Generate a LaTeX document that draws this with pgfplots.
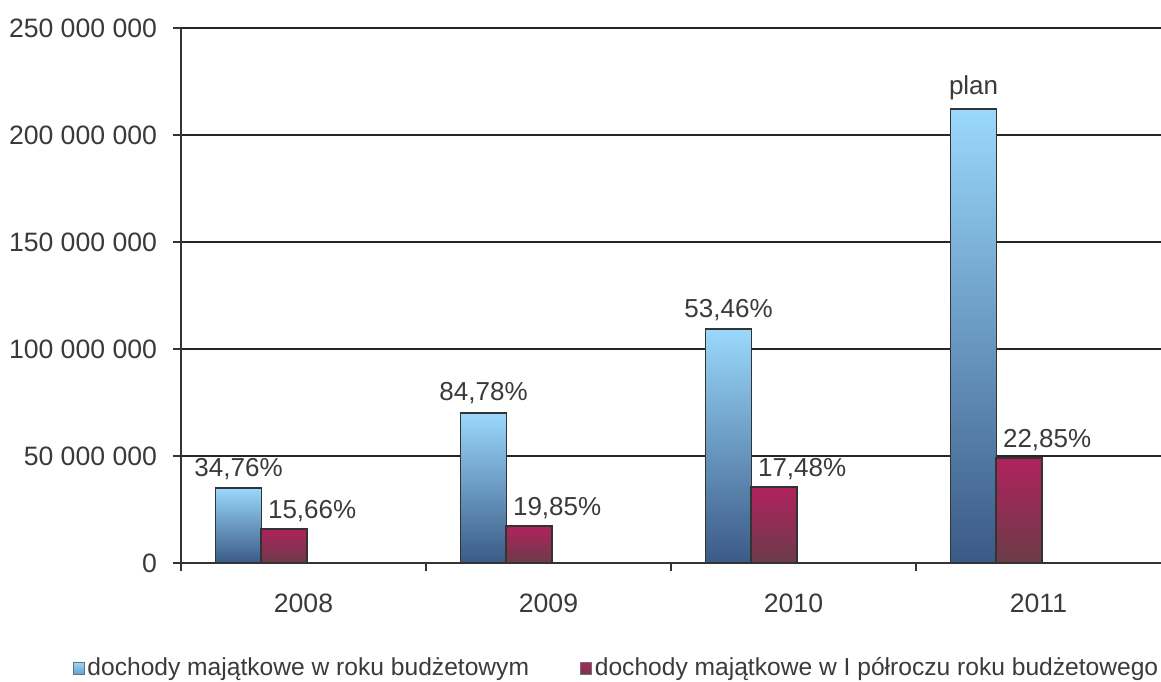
\documentclass[border=0pt]{standalone}
\usepackage{fontspec}
\setmainfont{Liberation Sans}
\usepackage{pgfplots}
\pgfplotsset{compat=1.18}
\definecolor{txt}{HTML}{3A3A3A}
\definecolor{bTop}{HTML}{9AD8FC}
\definecolor{bMid}{HTML}{5E9FD8}
\definecolor{bBot}{HTML}{3A5A85}
\definecolor{rTop}{HTML}{B0225E}
\definecolor{rMid}{HTML}{962C58}
\definecolor{rBot}{HTML}{6A3C48}
\definecolor{edge}{HTML}{333333}
\pgfplotsset{
  bluebar/.style={bar shift=-0.265, draw=edge, line width=0.7pt,
    top color=bTop, middle color=bMid, bottom color=bBot,
    nodes near coords style={text=txt, anchor=south, inner sep=3pt, yshift=1pt}},
  redbar/.style={bar shift=-0.079, draw=edge, line width=0.7pt,
    top color=rTop, middle color=rMid, bottom color=rBot,
    nodes near coords style={text=txt, anchor=south, inner sep=3pt, yshift=0.3pt, xshift=14pt}},
}
\begin{document}
\begin{tikzpicture}[font=\fontsize{13}{15.6}\selectfont]
\path[use as bounding box] (0,0) rectangle (580.5pt,340.5pt);
\begin{axis}[
  at={(90.5pt,59pt)}, anchor=south west,
  width=490pt, height=267.5pt, scale only axis,
  xmin=-0.5, xmax=3.5, ymin=0, ymax=250000000,
  scaled y ticks=false,
  axis x line=bottom, axis y line=left,
  axis line style={-, draw=edge, line width=0.6pt},
  tick align=outside,
  major tick length=4pt, minor tick length=4pt,
  xtick={0,1,2,3},
  xticklabels={2008,2009,2010,2011},
  major x tick style={draw=none},
  minor xtick={-0.5,0.5,1.5,2.5},
  minor x tick style={draw=edge, line width=0.6pt},
  ytick={0,50000000,100000000,150000000,200000000,250000000},
  yticklabels={0,50 000 000,100 000 000,150 000 000,200 000 000,250 000 000},
  major y tick style={draw=edge, line width=0.6pt},
  ymajorgrids,
  major grid style={draw=black!85, line width=0.6pt},
  ticklabel style={text=txt, font=\fontsize{13.3}{16}\selectfont},
  xticklabel style={yshift=-8pt},
  yticklabel style={xshift=-4.5pt},
  ybar, bar width=0.188,
  nodes near coords,
  point meta=explicit symbolic,
  clip=false,
  legend columns=2,
  legend style={at={(-0.111,-0.197)}, anchor=west, draw=none, fill=none,
    inner sep=0pt, font=\fontsize{12.3}{14.8}\selectfont, text=txt,
    nodes={inner sep=1.5pt},
    /tikz/every even column/.append style={column sep=24pt}},
  legend cell align=left,
]
% legend carriers (bars of zero height)
\addplot[bluebar, draw=none, fill=none, nodes near coords={},
  legend image code/.code={\draw[draw=edge!70, line width=0.4pt, top color=bTop, bottom color=bMid] (0pt,-3pt) rectangle (5.5pt,3pt);}]
coordinates {(0,0) []};
\addlegendentry{dochody majątkowe w roku budżetowym}
\addplot[redbar, draw=none, fill=none, nodes near coords={},
  legend image code/.code={\draw[draw=edge!70, line width=0.4pt, fill=rMid!85!gray] (0pt,-3pt) rectangle (5.5pt,3pt);}]
coordinates {(0,0) []};
\addlegendentry{dochody majątkowe w I półroczu roku budżetowego}
% blue bars, one per year so each gets its own gradient
\addplot[bluebar, forget plot] coordinates {(0,35000000) [34,76\%]};
\addplot[bluebar, forget plot] coordinates {(1,70100000) [84,78\%]};
\addplot[bluebar, forget plot] coordinates {(2,109300000) [53,46\%]};
\addplot[bluebar, forget plot] coordinates {(3,212100000) [\raisebox{3pt}{plan}]};
% red bars
\addplot[redbar, forget plot] coordinates {(0,15900000) [15,66\%]};
\addplot[redbar, forget plot] coordinates {(1,17300000) [19,85\%]};
\addplot[redbar, forget plot] coordinates {(2,35500000) [17,48\%]};
\addplot[redbar, forget plot] coordinates {(3,49100000) [22,85\%]};
\end{axis}
\end{tikzpicture}
\end{document}
